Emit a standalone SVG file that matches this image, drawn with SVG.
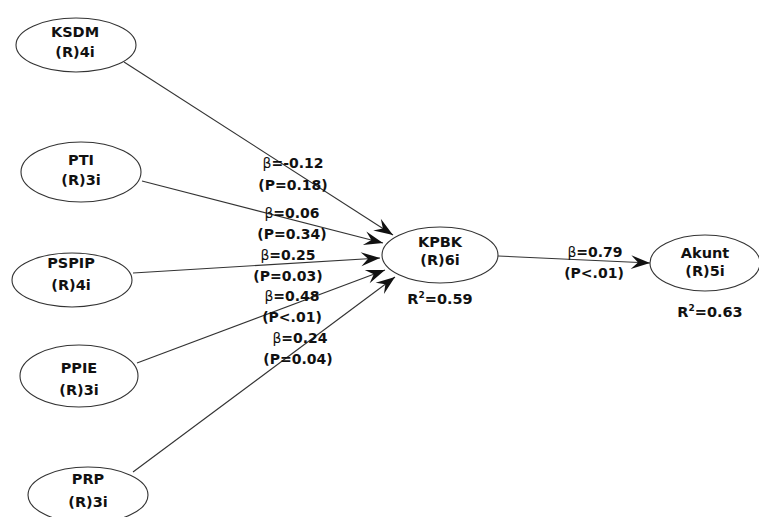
<svg xmlns="http://www.w3.org/2000/svg" width="759" height="517" viewBox="0 0 759 517">
  <style>
    .node ellipse { fill: #ffffff; stroke: #333333; stroke-width: 1.1; }
    .node text { font-family: "DejaVu Sans", "Liberation Sans", sans-serif; font-weight: bold; font-size: 14.5px; fill: #111111; text-anchor: middle; }
    .lbl { font-family: "DejaVu Sans", "Liberation Sans", sans-serif; font-weight: bold; font-size: 14px; fill: #111111; text-anchor: middle; }
    .beta { font-weight: normal; }
    .sup { font-size: 9px; }
    #connectors line { stroke: #333333; stroke-width: 1.1; fill: none; marker-end: url(#dart); }
  </style>
  <defs>
    <marker id="dart" viewBox="-20 -8 21 16" refX="0" refY="0" markerWidth="21" markerHeight="16" markerUnits="userSpaceOnUse" orient="auto">
      <path d="M0,0 L-19,-7 L-12,0 L-19,7 Z" fill="#111111"/>
    </marker>
  </defs>
  <rect width="759" height="517" fill="#ffffff"/>

  <!-- paths between constructs -->
  <g id="connectors">
    <line x1="124" y1="62" x2="393" y2="235"/>
    <line x1="142" y1="181" x2="383" y2="243"/>
    <line x1="133" y1="273" x2="380" y2="258"/>
    <line x1="137" y1="363" x2="385" y2="270"/>
    <line x1="133" y1="472" x2="395" y2="277"/>
    <line x1="498" y1="256" x2="650" y2="263"/>
  </g>

  <!-- path coefficients -->
  <g id="path-labels">
    <text class="lbl" x="293" y="168"><tspan class="beta">β</tspan>=-0.12</text>
    <text class="lbl" x="293" y="190">(P=0.18)</text>
    <text class="lbl" x="292" y="218"><tspan class="beta">β</tspan>=0.06</text>
    <text class="lbl" x="292" y="239">(P=0.34)</text>
    <text class="lbl" x="288" y="260"><tspan class="beta">β</tspan>=0.25</text>
    <text class="lbl" x="288" y="281">(P=0.03)</text>
    <text class="lbl" x="292" y="301"><tspan class="beta">β</tspan>=0.48</text>
    <text class="lbl" x="292" y="322">(P&lt;.01)</text>
    <text class="lbl" x="300" y="343"><tspan class="beta">β</tspan>=0.24</text>
    <text class="lbl" x="298" y="364">(P=0.04)</text>
    <text class="lbl" x="595" y="257"><tspan class="beta">β</tspan>=0.79</text>
    <text class="lbl" x="594" y="278">(P&lt;.01)</text>
  </g>

  <g id="KSDM" class="node">
    <ellipse cx="76" cy="45" rx="60" ry="27"/>
    <text x="75" y="37">KSDM</text>
    <text x="75" y="57">(R)4i</text>
  </g>
  <g id="PTI" class="node">
    <ellipse cx="81" cy="172" rx="60" ry="30"/>
    <text x="81" y="165">PTI</text>
    <text x="81" y="185">(R)3i</text>
  </g>
  <g id="PSPIP" class="node">
    <ellipse cx="72" cy="280" rx="60" ry="27"/>
    <text x="71" y="268">PSPIP</text>
    <text x="71" y="290">(R)4i</text>
  </g>
  <g id="PPIE" class="node">
    <ellipse cx="79" cy="376" rx="59" ry="31"/>
    <text x="79" y="373">PPIE</text>
    <text x="79" y="395">(R)3i</text>
  </g>
  <g id="PRP" class="node">
    <ellipse cx="88" cy="495" rx="60" ry="28"/>
    <text x="88" y="484">PRP</text>
    <text x="88" y="507">(R)3i</text>
  </g>
  <g id="KPBK" class="node">
    <ellipse cx="440" cy="255" rx="58" ry="28"/>
    <text x="440" y="247">KPBK</text>
    <text x="440" y="265">(R)6i</text>
    <text class="lbl" x="440" y="304">R<tspan class="sup" dy="-6">2</tspan><tspan dy="6">=0.59</tspan></text>
  </g>
  <g id="Akunt" class="node">
    <ellipse cx="705" cy="263" rx="55" ry="28"/>
    <text x="705" y="258">Akunt</text>
    <text x="705" y="276">(R)5i</text>
    <text class="lbl" x="710" y="317">R<tspan class="sup" dy="-6">2</tspan><tspan dy="6">=0.63</tspan></text>
  </g>
</svg>
